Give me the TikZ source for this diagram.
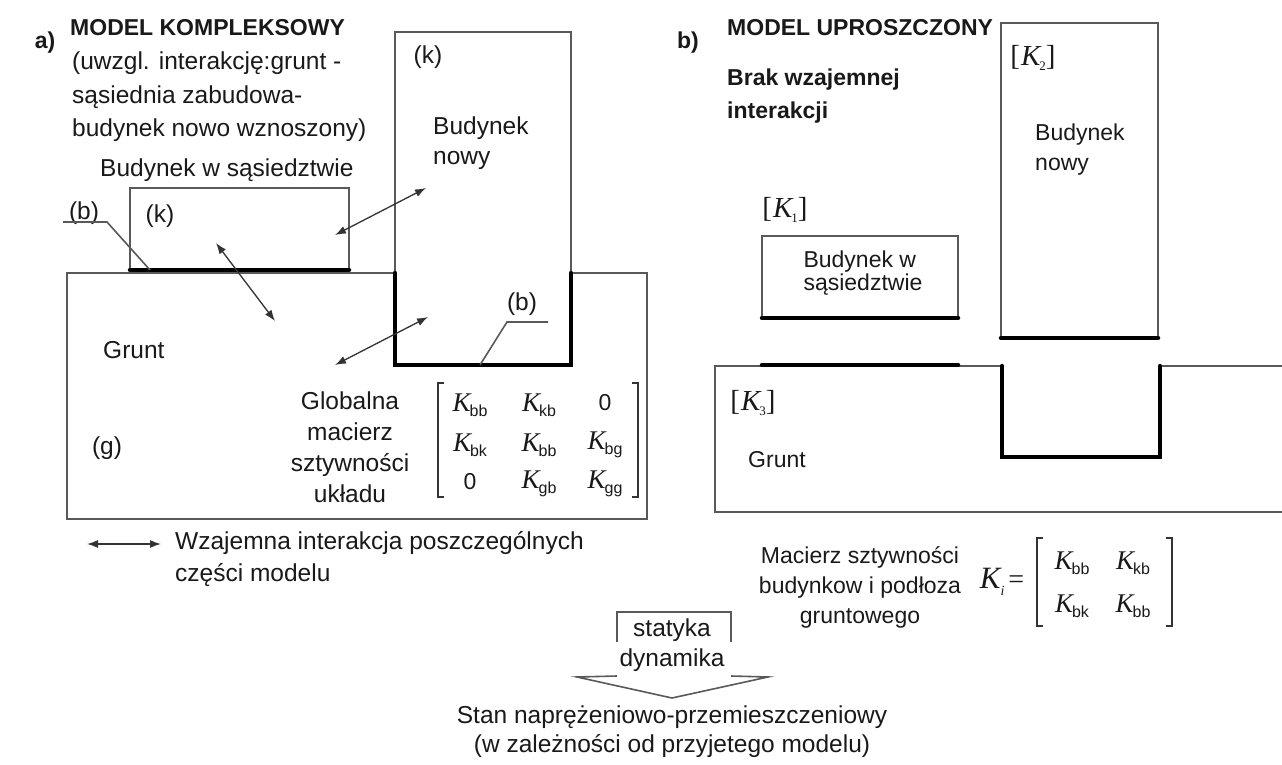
\documentclass[tikz,border=0pt]{standalone}
\usepackage{fontspec}
\setmainfont{Liberation Sans}
\newfontfamily\tms{Liberation Serif}
\usetikzlibrary{arrows.meta}
\newcommand\Kq[2]{{\tms\itshape\fontsize{27}{27}\selectfont K}\kern-1pt{\fontsize{16}{16}\selectfont\raisebox{-5pt}{#2}}}
\newcommand\Kbr[1]{{\tms\fontsize{29}{29}\selectfont[\kern1pt{\itshape K}\kern-1pt{\fontsize{13}{13}\selectfont\raisebox{-5pt}{#1}}]}}
\begin{document}
\begin{tikzpicture}[x=1pt,y=-1pt,
  ln/.style={line width=1.6pt, draw=black!65},
  heavy/.style={line width=4.5pt, draw=black, line cap=round},
  arr/.style={{Latex[length=11pt,width=8pt]}-{Latex[length=11pt,width=8pt]}, line width=1.3pt, draw=black!80},
  tL/.style={inner sep=0pt, text=black!90, font=\fontsize{24.5}{32}\selectfont, align=left},
  tR/.style={inner sep=0pt, text=black!90, font=\fontsize{23}{30}\selectfont, align=left},
  hd/.style={inner sep=0pt, text=black!90, font=\bfseries\fontsize{23}{33}\selectfont, align=left},
  ent/.style={inner sep=0pt, text=black!90}
]
\useasboundingbox (0,0) rectangle (1282,765);

% ---------- a) ----------
\node[hd] (la) at (45,43) {a)};
\node[hd, anchor=west] (ttlA) at (70,28) {MODEL KOMPLEKSOWY};
\node[tL, anchor=west, font=\fontsize{24.5}{33.5}\selectfont] (subA) at (72,97) {(uwzgl. interakcję:grunt -\\sąsiednia zabudowa-\\budynek nowo wznoszony)};
\node[tL, anchor=west] (bsA) at (100,170) {Budynek w sąsiedztwie};

% ground
\draw[ln] (395,273) -- (67,273) -- (67,519) -- (647,519) -- (647,273) -- (571,273);
% new building
\draw[ln] (395,273) -- (395,32) -- (571,32) -- (571,273);
\draw[heavy] (395,273) -- (395,365) -- (571,365) -- (571,273);
% neighbouring building
\draw[ln] (130,270) rectangle (349,188);
\draw[heavy] (130,270) -- (349,270);

\node[tL] (bA1) at (84,213) {(b)};
\draw[ln] (63,222) -- (107,222) -- (150,270);
\node[tL] (kA1) at (160,216) {(k)};
\node[tL] (kA2) at (428,57) {(k)};
\node[tL, anchor=west, font=\fontsize{24.5}{30}\selectfont] (bnA) at (433,143) {Budynek\\nowy};
\node[tL] (bA2) at (522,304) {(b)};
\draw[ln] (548,322) -- (507,322) -- (480,365);
\node[tL, anchor=west] (grA) at (103,350) {Grunt};
\node[tL] (gA) at (107,448) {(g)};
\node[tL, align=center, font=\fontsize{24.5}{31}\selectfont] (glob) at (350,447) {Globalna\\macierz\\sztywności\\układu};

% interaction arrows
\coordinate (p1) at (335,235); \coordinate (p2) at (426,188);
\coordinate (p3) at (216,243); \coordinate (p4) at (275,321);
\coordinate (p5) at (335,365); \coordinate (p6) at (428,317);
\draw[arr] (p1) -- (p2);
\draw[arr] (p3) -- (p4);
\draw[arr] (p5) -- (p6);

% global matrix
\draw[ln, draw=black!80] (444,383) -- (438,383) -- (438,497) -- (444,497);
\draw[ln, draw=black!80] (632,383) -- (638,383) -- (638,497) -- (632,497);
\node[ent] (m11) at (470,405) {\Kq{}{bb}};
\node[ent] (m12) at (539,405) {\Kq{}{kb}};
\node[ent, font=\fontsize{23}{23}\selectfont] (m13) at (605,403) {0};
\node[ent] (m21) at (470,445) {\Kq{}{bk}};
\node[ent] (m22) at (539,445) {\Kq{}{bb}};
\node[ent] (m23) at (605,445) {\Kq{}{bg}};
\node[ent, font=\fontsize{23}{23}\selectfont] (m31) at (470,482) {0};
\node[ent] (m32) at (539,484) {\Kq{}{gb}};
\node[ent] (m33) at (605,484) {\Kq{}{gg}};

% legend
\coordinate (lg1) at (87,544); \coordinate (lg2) at (161,544);
\draw[arr] (lg1) -- (lg2);
\node[tL, anchor=west] (lgt) at (175,559) {Wzajemna interakcja poszczególnych\\części modelu};

% ---------- b) ----------
\node[hd] (lb) at (688,43) {b)};
\node[hd, anchor=west] (ttlB) at (727,28) {MODEL UPROSZCZONY};
\node[hd, anchor=west] (subB) at (727,96) {Brak wzajemnej\\interakcji};

% new building
\draw[ln] (1001,338) rectangle (1158,23);
\draw[heavy] (1001,338) -- (1158,338);
\node[ent] (K2) at (1033,58) {\Kbr{2}};
\node[tR, anchor=west] (bnB) at (1035,150) {Budynek\\nowy};

% neighbouring building
\node[ent] (K1) at (785,210) {\Kbr{1}};
\draw[ln] (762,318) rectangle (958,236);
\draw[heavy] (762,318) -- (958,318);
\node[tR, font=\fontsize{23}{23}\selectfont] (bsB) at (863,273) {Budynek w\\sąsiedztwie};

% ground
\draw[ln] (1002,366) -- (715,366) -- (715,512) -- (1282,512);
\draw[ln] (1160,366) -- (1282,366);
\draw[heavy] (762,365) -- (958,365);
\draw[heavy] (1002,366) -- (1002,457) -- (1160,457) -- (1160,366);
\node[ent] (K3) at (753,403) {\Kbr{3}};
\node[tR, anchor=west] (grB) at (748,460) {Grunt};

% local matrix
\node[tR, align=center] (macB) at (860,587) {Macierz sztywności\\budynkow i podłoza\\gruntowego};
\node[ent] (Ki) at (1002,582) {{\tms\itshape\fontsize{31}{31}\selectfont K}{\tms\itshape\fontsize{14}{14}\selectfont\raisebox{-7pt}{i}}\kern4pt{\tms\fontsize{28}{28}\selectfont=}};
\draw[ln, draw=black!80] (1043,538) -- (1037,538) -- (1037,626) -- (1043,626);
\draw[ln, draw=black!80] (1166,538) -- (1172,538) -- (1172,626) -- (1166,626);
\node[ent] (n11) at (1072,563) {\Kq{}{bb}};
\node[ent] (n12) at (1133,563) {\Kq{}{kb}};
\node[ent] (n21) at (1072,606) {\Kq{}{bk}};
\node[ent] (n22) at (1133,606) {\Kq{}{bb}};

% ---------- bottom ----------
\draw[ln] (617,642) -- (617,612) -- (731,612) -- (731,642);
\draw[ln] (617,676) -- (577,677) -- (672,698) -- (768,677) -- (731,676);
\node[tL] (stat) at (672,630) {statyka};
\node[tL] (dyn) at (672,660) {dynamika};
\node[tL, align=center, font=\fontsize{24.5}{29}\selectfont] (res) at (672,732) {Stan naprężeniowo-przemieszczeniowy\\(w zależności od przyjetego modelu)};
\end{tikzpicture}
\end{document}
